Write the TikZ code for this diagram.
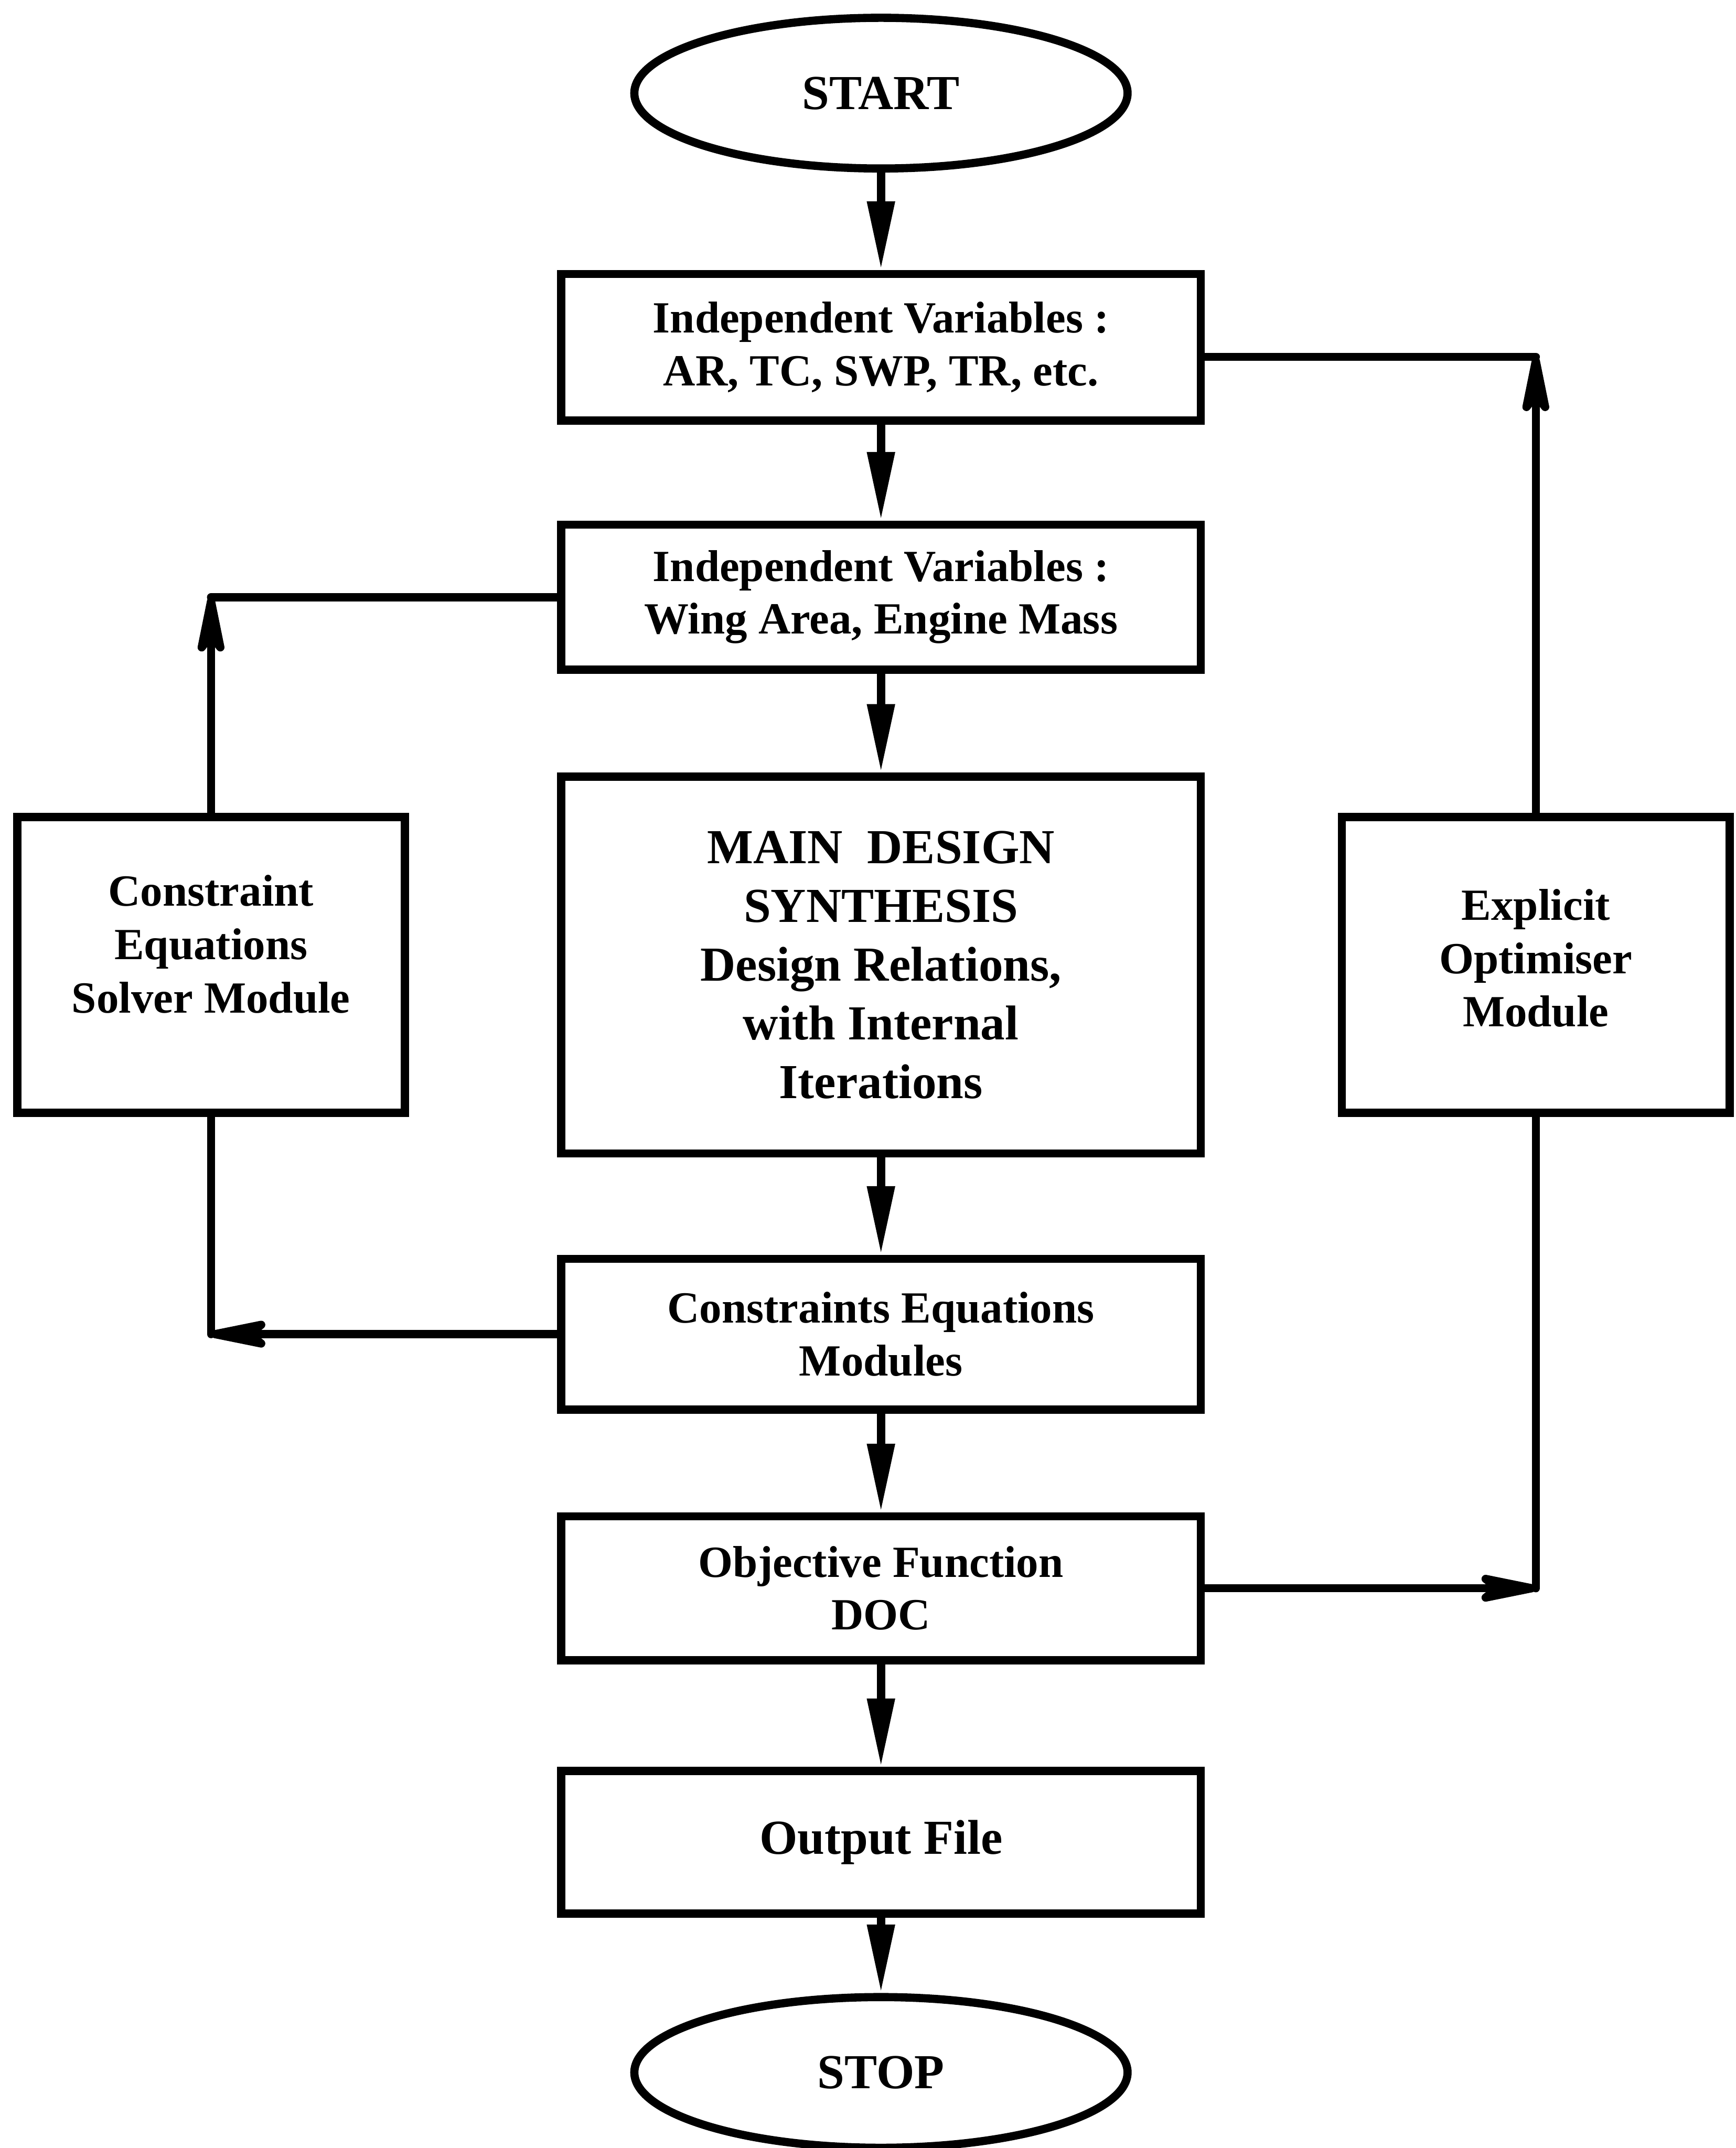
\documentclass[tikz,border=0pt]{standalone}
\usepackage{fontspec}
\setmainfont{Liberation Serif}
\usetikzlibrary{shapes.geometric, arrows.meta, positioning}

\begin{document}
\begin{tikzpicture}
\tikzstyle{term} = [ellipse, draw, line width=3.4pt, minimum width=7.2cm, minimum height=2.2cm, inner sep=0pt, font=\fontsize{20.3}{24.4}\selectfont\bfseries]
\tikzstyle{block} = [rectangle, draw, line width=3.4pt, minimum width=9.34cm, align=center, font=\fontsize{18.5}{21.8}\selectfont\bfseries]
\tikzstyle{module} = [rectangle, draw, line width=3.4pt, minimum width=5.66cm, minimum height=4.32cm]
\tikzstyle{modtext} = [align=center, font=\fontsize{18.5}{22.2}\selectfont\bfseries]
\tikzstyle{flow} = [line width=3.4pt, -{Triangle[length=1cm, width=0.38cm]}]
\tikzstyle{feedarrow} = [line width=3.4pt, -{Stealth[length=1.2cm, width=0.48cm, inset=0.3cm, round]}]
\tikzstyle{wire} = [line width=3.4pt, line cap=round]

\useasboundingbox (0,0) rectangle (25.34,-31.36);

\node (start) [term] at (12.86,-1.36) {START};

\node (ind1) [block, minimum height=2.14cm, below=1.42cm of start] {Independent Variables :\\AR, TC, SWP, TR, etc.};
\node (ind2) [block, minimum height=2.12cm, below=1.4cm of ind1] {Independent Variables :\\Wing Area, Engine Mass};
\node (main) [block, minimum height=5.5cm, below=1.44cm of ind2, font=\fontsize{20.3}{24.4}\selectfont\bfseries] {MAIN~~DESIGN\\SYNTHESIS\\Design Relations,\\with Internal\\Iterations};
\node (cons) [block, minimum height=2.2cm, below=1.42cm of main] {Constraints Equations\\Modules};
\node (obj) [block, minimum height=2.1cm, below=1.44cm of cons] {Objective Function\\DOC};
\node (out) [block, minimum height=2.08cm, below=1.5cm of obj, font=\fontsize{20.3}{24.4}\selectfont\bfseries] {Output File};
\node (stop) [term, below=1.1cm of out] {STOP};

\node (solver) [module, left=2.16cm of main] {};
\node (solvertxt) [modtext] at ([yshift=0.3cm]solver.center) {Constraint\\Equations\\Solver Module};
\node (optim) [module, right=1.94cm of main] {};
\node (optimtxt) [modtext] at ([yshift=0.1cm]optim.center) {Explicit\\Optimiser\\Module};

% main column
\draw [flow] (start) -- (ind1);
\draw [flow] (ind1) -- (ind2);
\draw [flow] (ind2) -- (main);
\draw [flow] (main) -- (cons);
\draw [flow] (cons) -- (obj);
\draw [flow] (obj) -- (out);
\draw [flow] (out) -- (stop);

% solver loop
\coordinate (lt) at (solver.north |- ind2.west);
\coordinate (lb) at (solver.south |- cons.west);
\draw [feedarrow] (solver.north) -- (lt);
\draw [wire] (ind2.west) -- (lt);
\draw [wire] (solver.south) -- (lb);
\draw [feedarrow] (cons.west) -- (lb);

% optimiser loop
\coordinate (rin) at ([yshift=-0.14cm]ind1.east);
\coordinate (rt) at (optim.north |- rin);
\coordinate (rb) at (optim.south |- obj.east);
\draw [feedarrow] (optim.north) -- (rt);
\draw [wire] (rin) -- (rt);
\draw [wire] (optim.south) -- (rb);
\draw [feedarrow] (obj.east) -- (rb);

\end{tikzpicture}
\end{document}
